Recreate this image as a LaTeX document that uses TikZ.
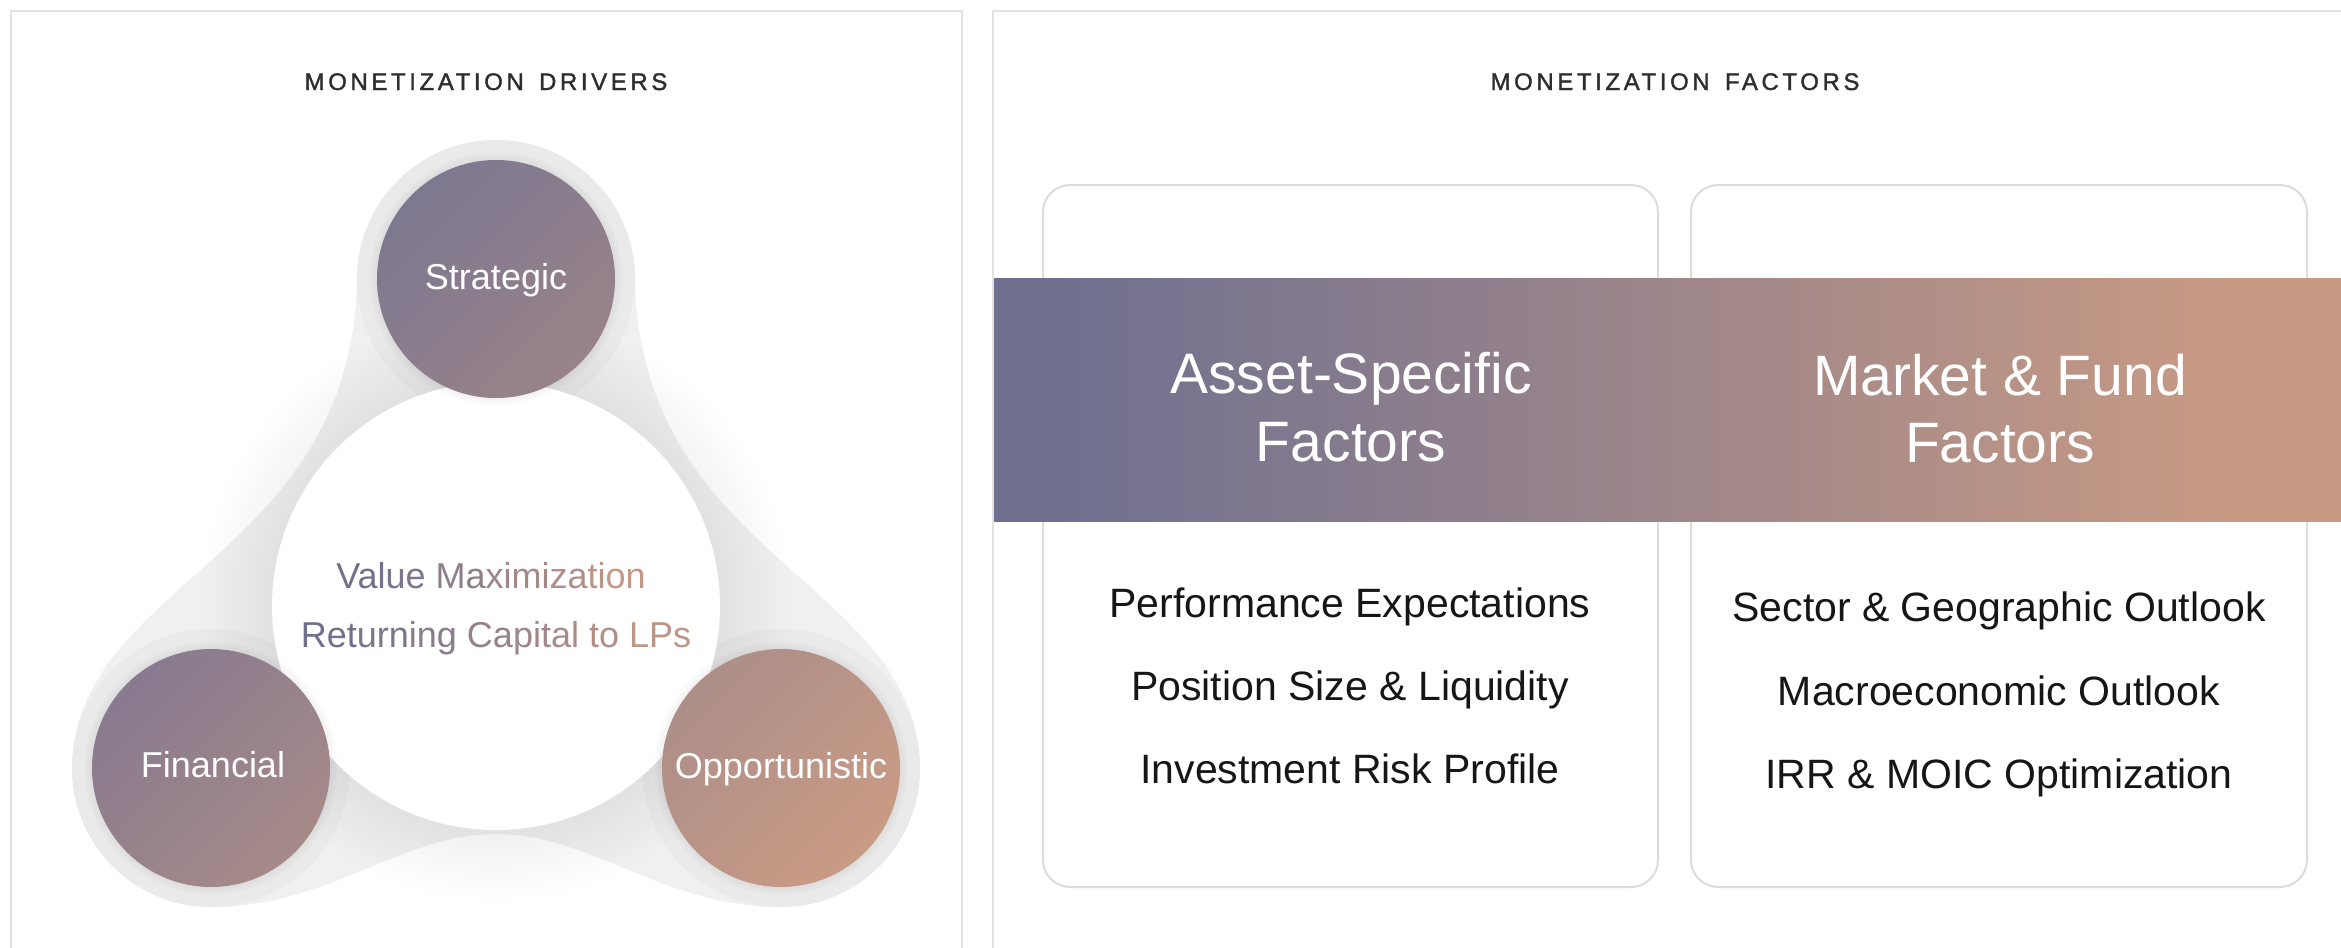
\documentclass[tikz,border=0pt]{standalone}
\usepackage{fontspec}
\setmainfont{Liberation Sans}
\newfontfamily\titlefont[LetterSpace=15,FakeBold=1.5]{Liberation Sans}
\definecolor{panelline}{HTML}{E2E2E2}
\definecolor{cardline}{HTML}{DCDCDC}
\definecolor{blobgray}{HTML}{F0F0F0}
\definecolor{halogray}{HTML}{EAEAEA}
\definecolor{bandL}{HTML}{6F7090}
\definecolor{bandR}{HTML}{C89A84}
\definecolor{gL}{HTML}{6A6C8D}
\definecolor{gR}{HTML}{C69A86}
\definecolor{titlegray}{HTML}{2E2E2E}
\definecolor{itemblack}{HTML}{161616}
\definecolor{sA}{HTML}{7D7890}
\definecolor{sB}{HTML}{998389}
\definecolor{fA}{HTML}{887A8F}
\definecolor{fB}{HTML}{A68A88}
\definecolor{oA}{HTML}{AD8E89}
\definecolor{oB}{HTML}{C99B84}
\pgfdeclarehorizontalshading{bandshade}{100bp}{color(0bp)=(bandL); color(27.4bp)=(bandL); color(70.9bp)=(bandR); color(100bp)=(bandR)}
\newcommand{\gc}[2]{\textcolor{gL!#1!gR}{#2}}
\begin{document}
\begin{tikzpicture}[x=0.5pt,y=-0.5pt,
  paneltitle/.style={font=\titlefont\fontsize{12}{14}\selectfont, text=titlegray, anchor=base, inner sep=0},
  circlelabel/.style={font=\fontsize{18}{21}\selectfont, text=white, anchor=base, inner sep=0},
  centertext/.style={font=\fontsize{18}{21}\selectfont, anchor=base, inner sep=0},
  item/.style={font=\fontsize{20.5}{24}\selectfont, text=itemblack, anchor=base, inner sep=0},
  bandtitle/.style={font=\fontsize{28.5}{34}\selectfont, text=white, anchor=base, inner sep=0},
  card/.style={draw=cardline, line width=1pt, rounded corners=13.5pt, fill=white},
  panel/.style={draw=panelline, line width=1pt},
]
\useasboundingbox (0,0) rectangle (2341,948);
\fill[white] (0,0) rectangle (2341,948);

% panels
\draw[panel] (11,960) -- (11,11) -- (962,11) -- (962,960);
\draw[panel] (993,960) -- (993,11) -- (2360,11);

% titles
\node[paneltitle] (t1) at (486,90) {MONETIZATION\hspace{2.5pt} DRIVERS};
\node[paneltitle] (t2) at (1675,90) {MONETIZATION\hspace{2.5pt} FACTORS};

% left diagram
\coordinate (S) at (496,279);
\coordinate (F) at (211,768);
\coordinate (O) at (781,768);
\coordinate (W) at (496,606);

\fill[blobgray] (357,279) .. controls (352,560) and (75,580) .. (72,768)
  arc[start angle=180,end angle=90,radius=139]
  .. controls (330,907) and (400,834) .. (496,834)
  .. controls (592,834) and (662,907) .. (781,907)
  arc[start angle=90,end angle=0,radius=139]
  .. controls (917,580) and (640,560) .. (635,279)
  arc[start angle=0,end angle=-180,radius=139] -- cycle;

\fill[halogray] (S) circle[radius=139];
\fill[halogray] (F) circle[radius=139];
\fill[halogray] (O) circle[radius=139];

\foreach \r in {1,...,14} \fill[black, opacity=0.005] (W) circle[radius=224+5*\r];
\fill[white] (W) circle[radius=224];

\foreach \c in {S,F,O} \foreach \r in {1,...,4} \fill[black, opacity=0.012] (\c) circle[radius=119+2*\r];

\shade[top color=sA, bottom color=sB, shading angle=45] (S) circle[radius=119];
\shade[top color=fA, bottom color=fB, shading angle=45] (F) circle[radius=119];
\shade[top color=oA, bottom color=oB, shading angle=45] (O) circle[radius=119];

\node[circlelabel] (strategic) at (496,289) {Strategic};
\node[circlelabel] (financial) at (213,777) {Financial};
\node[circlelabel] (opportunistic) at (781,778) {Opportunistic};

\node[centertext] (cv) at (491,588) {\gc{92}{Val}\gc{80}{ue} \gc{61}{Ma}\gc{44}{xi}\gc{37}{mi}\gc{25}{za}\gc{14}{ti}\gc{3}{on}};
\node[centertext] (cr) at (496,647) {\gc{93}{Ret}\gc{79}{urn}\gc{66}{ing} \gc{53}{Ca}\gc{41}{pit}\gc{32}{al} \gc{24}{to} \gc{9}{LPs}};

% right panel
\draw[card] (1043,185) rectangle (1658,887);
\draw[card] (1691,185) rectangle (2307,887);

\shade[shading=bandshade] (994,278) rectangle (2341,521);

\node[bandtitle] (a1) at (1351,393) {Asset-Specific};
\node[bandtitle] (a2) at (1351,461) {Factors};
\node[bandtitle] (m1) at (2000,395) {Market \& Fund};
\node[bandtitle] (m2) at (2000,462) {Factors};

\node[item] (p1) at (1350,617) {Performance Expectations};
\node[item] (p2) at (1350,700) {Position Size \& Liquidity};
\node[item] (p3) at (1350,783) {Investment Risk Profile};
\node[item] (q1) at (1999,621) {Sector \& Geographic Outlook};
\node[item] (q2) at (1999,705) {Macroeconomic Outlook};
\node[item] (q3) at (1999,788) {IRR \& MOIC Optimization};
\end{tikzpicture}
\end{document}
